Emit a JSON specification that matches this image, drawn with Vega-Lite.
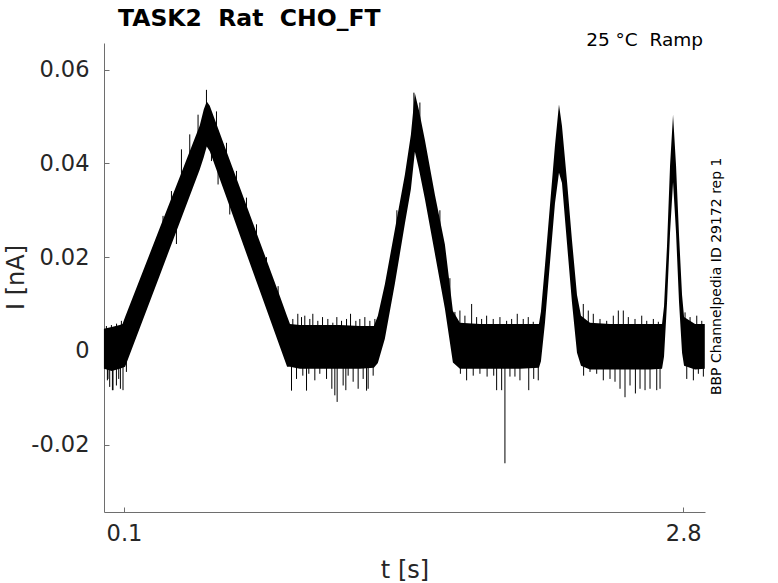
{
  "$schema": "https://vega.github.io/schema/vega-lite/v6.json",
  "width": 601,
  "height": 469,
  "autosize": "none",
  "padding": {"left": 104, "top": 43, "right": 73, "bottom": 71},
  "background": "white",
  "config": {
    "view": {"stroke": null},
    "font": "DejaVu Sans",
    "axis": {
      "domainColor": "#6e6e6e",
      "tickColor": "#6e6e6e",
      "labelColor": "#262626",
      "titleColor": "#262626",
      "labelFont": "DejaVu Sans",
      "titleFont": "DejaVu Sans",
      "labelFontSize": 22.5,
      "titleFontSize": 24,
      "titleFontWeight": "normal",
      "grid": false,
      "tickSize": -5
    }
  },
  "datasets": {
    "band": [
      {"t": 0.003, "lo": -0.0038, "hi": 0.0047},
      {"t": 0.0406, "lo": -0.0043, "hi": 0.0051},
      {"t": 0.0792, "lo": -0.0038, "hi": 0.0055},
      {"t": 0.0928, "lo": -0.0036, "hi": 0.0057},
      {"t": 0.1053, "lo": -0.0034, "hi": 0.0072},
      {"t": 0.1758, "lo": 0.0048, "hi": 0.0152},
      {"t": 0.2725, "lo": 0.0161, "hi": 0.0262},
      {"t": 0.3691, "lo": 0.0274, "hi": 0.0371},
      {"t": 0.4657, "lo": 0.0387, "hi": 0.0481},
      {"t": 0.4850, "lo": 0.0413, "hi": 0.0515},
      {"t": 0.4995, "lo": 0.0436, "hi": 0.0532},
      {"t": 0.5140, "lo": 0.0426, "hi": 0.0523},
      {"t": 0.5947, "lo": 0.0327, "hi": 0.0426},
      {"t": 0.6589, "lo": 0.0247, "hi": 0.0349},
      {"t": 0.7556, "lo": 0.0128, "hi": 0.0233},
      {"t": 0.8522, "lo": 0.0009, "hi": 0.0117},
      {"t": 0.8874, "lo": -0.0034, "hi": 0.0074},
      {"t": 0.9014, "lo": -0.0034, "hi": 0.0057},
      {"t": 0.9488, "lo": -0.0038, "hi": 0.0055},
      {"t": 1.0454, "lo": -0.0038, "hi": 0.0055},
      {"t": 1.1420, "lo": -0.0038, "hi": 0.0055},
      {"t": 1.2386, "lo": -0.0038, "hi": 0.0053},
      {"t": 1.3063, "lo": -0.0036, "hi": 0.0053},
      {"t": 1.3256, "lo": -0.0026, "hi": 0.0075},
      {"t": 1.3594, "lo": 0.0026, "hi": 0.0142},
      {"t": 1.4077, "lo": 0.0143, "hi": 0.0259},
      {"t": 1.4560, "lo": 0.0271, "hi": 0.0376},
      {"t": 1.4850, "lo": 0.0345, "hi": 0.0461},
      {"t": 1.5043, "lo": 0.0425, "hi": 0.0550},
      {"t": 1.5237, "lo": 0.0388, "hi": 0.0514},
      {"t": 1.5527, "lo": 0.0324, "hi": 0.0450},
      {"t": 1.6010, "lo": 0.0207, "hi": 0.0333},
      {"t": 1.6493, "lo": 0.0090, "hi": 0.0227},
      {"t": 1.6879, "lo": -0.0025, "hi": 0.0085},
      {"t": 1.7217, "lo": -0.0038, "hi": 0.0060},
      {"t": 1.8184, "lo": -0.0038, "hi": 0.0057},
      {"t": 1.9150, "lo": -0.0038, "hi": 0.0057},
      {"t": 2.0116, "lo": -0.0038, "hi": 0.0057},
      {"t": 2.1034, "lo": -0.0036, "hi": 0.0057},
      {"t": 2.1130, "lo": -0.0022, "hi": 0.0084},
      {"t": 2.1324, "lo": 0.0060, "hi": 0.0182},
      {"t": 2.1565, "lo": 0.0188, "hi": 0.0310},
      {"t": 2.1807, "lo": 0.0315, "hi": 0.0438},
      {"t": 2.2000, "lo": 0.0380, "hi": 0.0526},
      {"t": 2.2145, "lo": 0.0358, "hi": 0.0480},
      {"t": 2.2386, "lo": 0.0230, "hi": 0.0363},
      {"t": 2.2628, "lo": 0.0103, "hi": 0.0236},
      {"t": 2.2870, "lo": -0.0004, "hi": 0.0119},
      {"t": 2.3063, "lo": -0.0032, "hi": 0.0075},
      {"t": 2.3498, "lo": -0.0040, "hi": 0.0060},
      {"t": 2.4464, "lo": -0.0040, "hi": 0.0057},
      {"t": 2.5430, "lo": -0.0040, "hi": 0.0057},
      {"t": 2.6396, "lo": -0.0040, "hi": 0.0057},
      {"t": 2.6976, "lo": -0.0038, "hi": 0.0057},
      {"t": 2.7072, "lo": -0.0012, "hi": 0.0095},
      {"t": 2.7217, "lo": 0.0103, "hi": 0.0225},
      {"t": 2.7362, "lo": 0.0252, "hi": 0.0395},
      {"t": 2.7507, "lo": 0.0360, "hi": 0.0504},
      {"t": 2.7652, "lo": 0.0252, "hi": 0.0395},
      {"t": 2.7797, "lo": 0.0103, "hi": 0.0246},
      {"t": 2.7942, "lo": -0.0004, "hi": 0.0119},
      {"t": 2.8039, "lo": -0.0032, "hi": 0.0072},
      {"t": 2.8570, "lo": -0.0040, "hi": 0.0057},
      {"t": 2.9040, "lo": -0.0038, "hi": 0.0057}
    ],
    "spikes": [
      {"t": 0.0150, "a": 0.001, "b": 0.0053},
      {"t": 0.0198, "a": 0.001, "b": -0.0063},
      {"t": 0.0227, "a": 0.001, "b": -0.0060},
      {"t": 0.0309, "a": 0.001, "b": -0.0077},
      {"t": 0.0391, "a": 0.001, "b": 0.0055},
      {"t": 0.0440, "a": 0.001, "b": -0.0084},
      {"t": 0.0469, "a": 0.001, "b": -0.0084},
      {"t": 0.0633, "a": 0.001, "b": -0.0074},
      {"t": 0.0640, "a": 0.001, "b": 0.0058},
      {"t": 0.0744, "a": 0.001, "b": -0.0060},
      {"t": 0.0826, "a": 0.001, "b": -0.0081},
      {"t": 0.0874, "a": 0.001, "b": 0.0064},
      {"t": 0.0952, "a": 0.001, "b": -0.0084},
      {"t": 0.1116, "a": 0.001, "b": -0.0045},
      {"t": 0.2884, "a": 0.025, "b": 0.0288},
      {"t": 0.3290, "a": 0.030, "b": 0.0341},
      {"t": 0.3531, "a": 0.0285, "b": 0.0228},
      {"t": 0.3773, "a": 0.035, "b": 0.0430},
      {"t": 0.4174, "a": 0.040, "b": 0.0462},
      {"t": 0.4575, "a": 0.044, "b": 0.0504},
      {"t": 0.4981, "a": 0.050, "b": 0.0557},
      {"t": 0.5222, "a": 0.045, "b": 0.0405},
      {"t": 0.5464, "a": 0.045, "b": 0.0511},
      {"t": 0.5541, "a": 0.041, "b": 0.0355},
      {"t": 0.5947, "a": 0.040, "b": 0.0444},
      {"t": 0.6106, "a": 0.034, "b": 0.0291},
      {"t": 0.6430, "a": 0.034, "b": 0.0384},
      {"t": 0.6913, "a": 0.028, "b": 0.0327},
      {"t": 0.7396, "a": 0.022, "b": 0.0270},
      {"t": 0.7879, "a": 0.016, "b": 0.0200},
      {"t": 0.8440, "a": 0.010, "b": 0.0138},
      {"t": 0.9087, "a": 0.001, "b": -0.0085},
      {"t": 0.9150, "a": 0.001, "b": 0.0068},
      {"t": 0.9329, "a": 0.001, "b": -0.0060},
      {"t": 0.9391, "a": 0.001, "b": 0.0079},
      {"t": 0.9570, "a": 0.001, "b": 0.0072},
      {"t": 0.9633, "a": 0.001, "b": -0.0053},
      {"t": 0.9729, "a": 0.001, "b": 0.0075},
      {"t": 0.9812, "a": 0.001, "b": -0.0085},
      {"t": 0.9923, "a": 0.001, "b": -0.0049},
      {"t": 0.9971, "a": 0.001, "b": 0.0068},
      {"t": 1.0116, "a": 0.001, "b": 0.0079},
      {"t": 1.0213, "a": 0.001, "b": -0.0063},
      {"t": 1.0357, "a": 0.001, "b": 0.0064},
      {"t": 1.0454, "a": 0.001, "b": -0.0049},
      {"t": 1.0585, "a": 0.001, "b": 0.0072},
      {"t": 1.0778, "a": 0.001, "b": -0.0060},
      {"t": 1.0841, "a": 0.001, "b": 0.0068},
      {"t": 1.1034, "a": 0.001, "b": -0.0081},
      {"t": 1.1082, "a": 0.001, "b": 0.0060},
      {"t": 1.1179, "a": 0.001, "b": -0.0095},
      {"t": 1.1275, "a": 0.001, "b": 0.0072},
      {"t": 1.1290, "a": 0.001, "b": -0.0109},
      {"t": 1.1502, "a": 0.001, "b": 0.0064},
      {"t": 1.1580, "a": 0.001, "b": -0.0074},
      {"t": 1.1710, "a": 0.001, "b": -0.0084},
      {"t": 1.1744, "a": 0.001, "b": 0.0068},
      {"t": 1.1821, "a": 0.001, "b": -0.0053},
      {"t": 1.1937, "a": 0.001, "b": 0.0079},
      {"t": 1.2063, "a": 0.001, "b": -0.0066},
      {"t": 1.2193, "a": 0.001, "b": 0.0064},
      {"t": 1.2304, "a": 0.001, "b": -0.0081},
      {"t": 1.2386, "a": 0.001, "b": 0.0068},
      {"t": 1.2546, "a": 0.001, "b": -0.0060},
      {"t": 1.2628, "a": 0.001, "b": 0.0072},
      {"t": 1.2710, "a": 0.001, "b": -0.0085},
      {"t": 1.2787, "a": 0.001, "b": -0.0081},
      {"t": 1.2870, "a": 0.001, "b": 0.0064},
      {"t": 1.3029, "a": 0.001, "b": -0.0053},
      {"t": 1.3111, "a": 0.001, "b": 0.0068},
      {"t": 1.4174, "a": 0.025, "b": 0.0300},
      {"t": 1.4995, "a": 0.047, "b": 0.0551},
      {"t": 1.5285, "a": 0.045, "b": 0.0530},
      {"t": 1.6251, "a": 0.020, "b": 0.0300},
      {"t": 1.6734, "a": 0.005, "b": 0.0155},
      {"t": 1.6976, "a": 0.001, "b": 0.0083},
      {"t": 1.7217, "a": 0.001, "b": 0.0086},
      {"t": 1.7240, "a": 0.001, "b": -0.0049},
      {"t": 1.7459, "a": 0.001, "b": 0.0075},
      {"t": 1.7541, "a": 0.001, "b": -0.0063},
      {"t": 1.7783, "a": 0.001, "b": 0.0100},
      {"t": 1.7860, "a": 0.001, "b": -0.0053},
      {"t": 1.8024, "a": 0.001, "b": 0.0072},
      {"t": 1.8184, "a": 0.001, "b": -0.0049},
      {"t": 1.8266, "a": 0.001, "b": 0.0068},
      {"t": 1.8507, "a": 0.001, "b": 0.0075},
      {"t": 1.8530, "a": 0.001, "b": -0.0055},
      {"t": 1.8826, "a": 0.001, "b": 0.0068},
      {"t": 1.8850, "a": 0.001, "b": -0.0053},
      {"t": 1.8990, "a": 0.001, "b": -0.0084},
      {"t": 1.9150, "a": 0.001, "b": 0.0072},
      {"t": 1.9232, "a": 0.001, "b": -0.0084},
      {"t": 1.9391, "a": 0.001, "b": -0.0240},
      {"t": 1.9473, "a": 0.001, "b": 0.0064},
      {"t": 1.9633, "a": 0.001, "b": -0.0055},
      {"t": 1.9715, "a": 0.001, "b": 0.0068},
      {"t": 1.9874, "a": 0.001, "b": -0.0055},
      {"t": 1.9986, "a": 0.001, "b": 0.0079},
      {"t": 2.0116, "a": 0.001, "b": -0.0063},
      {"t": 2.0275, "a": 0.001, "b": 0.0068},
      {"t": 2.0517, "a": 0.001, "b": 0.0072},
      {"t": 2.0540, "a": 0.001, "b": -0.0084},
      {"t": 2.0758, "a": 0.001, "b": 0.0062},
      {"t": 2.0780, "a": 0.001, "b": -0.0060},
      {"t": 2.1000, "a": 0.001, "b": -0.0063},
      {"t": 2.3174, "a": 0.001, "b": 0.0100},
      {"t": 2.3190, "a": 0.001, "b": -0.0053},
      {"t": 2.3415, "a": 0.001, "b": 0.0086},
      {"t": 2.3498, "a": 0.001, "b": -0.0045},
      {"t": 2.3657, "a": 0.001, "b": 0.0079},
      {"t": 2.3821, "a": 0.001, "b": -0.0049},
      {"t": 2.3981, "a": 0.001, "b": 0.0068},
      {"t": 2.4140, "a": 0.001, "b": -0.0063},
      {"t": 2.4304, "a": 0.001, "b": 0.0064},
      {"t": 2.4464, "a": 0.001, "b": -0.0060},
      {"t": 2.4623, "a": 0.001, "b": 0.0075},
      {"t": 2.4705, "a": 0.001, "b": -0.0066},
      {"t": 2.4865, "a": 0.001, "b": 0.0086},
      {"t": 2.4947, "a": 0.001, "b": -0.0081},
      {"t": 2.5106, "a": 0.001, "b": 0.0086},
      {"t": 2.5188, "a": 0.001, "b": -0.0099},
      {"t": 2.5348, "a": 0.001, "b": 0.0072},
      {"t": 2.5430, "a": 0.001, "b": -0.0074},
      {"t": 2.5671, "a": 0.001, "b": 0.0068},
      {"t": 2.5690, "a": 0.001, "b": -0.0091},
      {"t": 2.5913, "a": 0.001, "b": -0.0081},
      {"t": 2.5995, "a": 0.001, "b": 0.0075},
      {"t": 2.6155, "a": 0.001, "b": -0.0084},
      {"t": 2.6237, "a": 0.001, "b": 0.0064},
      {"t": 2.6396, "a": 0.001, "b": -0.0081},
      {"t": 2.6556, "a": 0.001, "b": 0.0068},
      {"t": 2.6720, "a": 0.001, "b": -0.0084},
      {"t": 2.6797, "a": 0.001, "b": 0.0062},
      {"t": 2.6879, "a": 0.001, "b": -0.0081},
      {"t": 2.8087, "a": 0.001, "b": 0.0082},
      {"t": 2.8169, "a": 0.001, "b": -0.0060},
      {"t": 2.8329, "a": 0.001, "b": 0.0072},
      {"t": 2.8488, "a": 0.001, "b": -0.0063},
      {"t": 2.8652, "a": 0.001, "b": 0.0075},
      {"t": 2.8729, "a": 0.001, "b": -0.0049},
      {"t": 2.8894, "a": 0.001, "b": 0.0064},
      {"t": 2.8971, "a": 0.001, "b": -0.0055}
    ]
  },
  "encoding": {
    "x": {
      "type": "quantitative",
      "scale": {"domain": [0.0034, 2.905], "nice": false, "zero": false},
      "axis": {"values": [0.1, 2.8], "title": "t [s]", "labelPadding": 15, "titlePadding": 14, "format": ".1f"}
    },
    "y": {
      "type": "quantitative",
      "scale": {"domain": [-0.0344, 0.0657], "nice": false, "zero": false},
      "axis": {
        "values": [-0.02, 0, 0.02, 0.04, 0.06],
        "labelExpr": "datum.value == 0 ? '0' : (datum.value < 0 ? '-' : '') + format(abs(datum.value), '.2f')",
        "title": "I [nA]",
        "labelPadding": 20,
        "titleX": -76,
        "titleY": 234
      }
    }
  },
  "layer": [
    {
      "data": {"name": "band"},
      "mark": {"type": "area", "color": "black", "opacity": 1},
      "encoding": {
        "x": {"field": "t", "type": "quantitative"},
        "y": {"field": "hi", "type": "quantitative"},
        "y2": {"field": "lo"}
      }
    },
    {
      "data": {"name": "spikes"},
      "mark": {"type": "rule", "color": "black", "strokeWidth": 1},
      "encoding": {
        "x": {"field": "t", "type": "quantitative"},
        "y": {"field": "a", "type": "quantitative"},
        "y2": {"field": "b"}
      }
    },
    {
      "data": {"values": [{"label": "TASK2\u00a0 Rat\u00a0 CHO_FT"}]},
      "mark": {"type": "text", "align": "left", "baseline": "alphabetic", "fontSize": 23.5, "fontWeight": "bold", "font": "DejaVu Sans", "color": "black"},
      "encoding": {
        "text": {"field": "label"},
        "x": {"datum": 0.0710},
        "y": {"datum": 0.0694}
      }
    },
    {
      "data": {"values": [{"label": "25 °C\u00a0 Ramp"}]},
      "mark": {"type": "text", "align": "right", "baseline": "alphabetic", "fontSize": 18.5, "font": "DejaVu Sans", "color": "black"},
      "encoding": {
        "text": {"field": "label"},
        "x": {"datum": 2.8957},
        "y": {"datum": 0.0650}
      }
    },
    {
      "data": {"values": [{"label": "BBP Channelpedia ID 29172 rep 1"}]},
      "mark": {"type": "text", "angle": 270, "align": "center", "baseline": "middle", "fontSize": 14, "font": "DejaVu Sans", "color": "black"},
      "encoding": {
        "text": {"field": "label"},
        "x": {"datum": 2.963},
        "y": {"datum": 0.0159}
      }
    }
  ]
}
